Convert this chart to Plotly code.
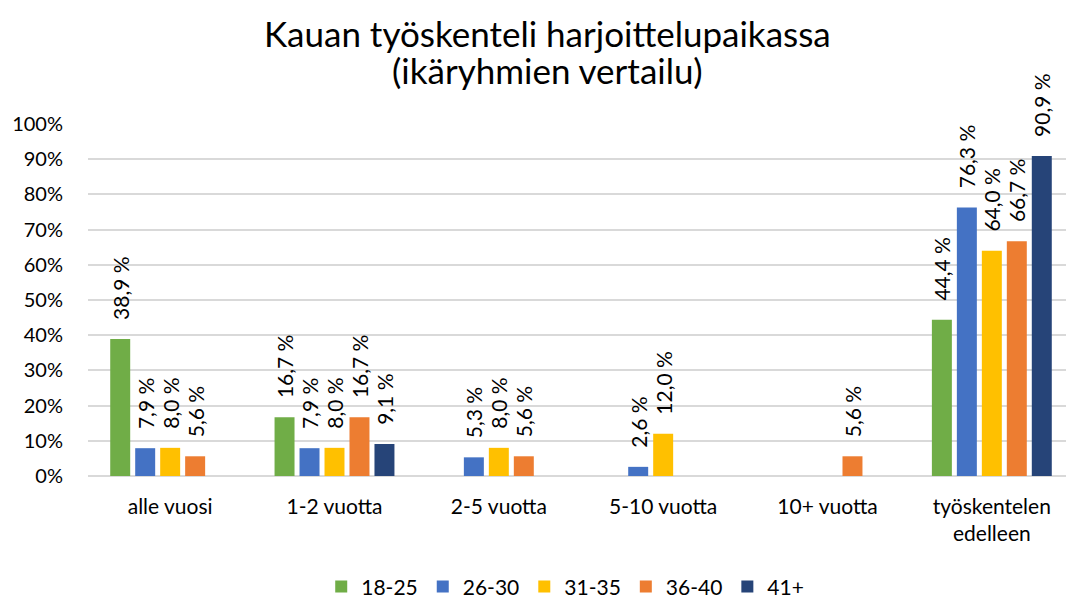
import plotly.graph_objects as go

categories = ["alle vuosi", "1-2 vuotta", "2-5 vuotta", "5-10 vuotta", "10+ vuotta",
              "työskentelen<br>edelleen"]
groups = ["18-25", "26-30", "31-35", "36-40", "41+"]
values_18_25 = [38.9, 16.7, None, None, None, 44.4]
values_26_30 = [7.9, 7.9, 5.3, 2.6, None, 76.3]
values_31_35 = [8.0, 8.0, 8.0, 12.0, None, 64.0]
values_36_40 = [5.6, 16.7, 5.6, None, 5.6, 66.7]
values_41 = [None, 9.1, None, None, None, 90.9]
colors = ["#70AD47", "#4472C4", "#FFC000", "#ED7D31", "#264478"]
title_lines = ["Kauan työskenteli harjoittelupaikassa", "(ikäryhmien vertailu)"]

FONT = "Lato, Carlito, 'Open Sans', sans-serif"

# the page body has an 8px margin, so the figure is made 8px smaller
W, H = 1066, 593
ML, MT, MB = 80, 116, 125
PLOT_H = H - MT - MB


def label(v):
    # finnish style: decimal comma and a space before the percent sign
    # (leading no-break spaces lift the label a bit off the bar, like excel does)
    if v is None:
        return ""
    return "\u00a0\u00a0\u00a0" + f"{v:.1f}".replace(".", ",") + " %"


fig = go.Figure()
for name, vals, col in zip(groups, [values_18_25, values_26_30, values_31_35, values_36_40, values_41],
                           colors):
    fig.add_trace(go.Bar(
        x=categories, y=[None if v is None else v / 100 for v in vals],
        name=name, marker=dict(color=col, line=dict(width=0)),
        text=[label(v) for v in vals], textposition="outside", textangle=-90,
        textfont=dict(size=21, color="#000000", family=FONT),
        cliponaxis=False,
    ))

# title as two annotations so the line spacing can follow the original
for i, line in enumerate(title_lines):
    fig.add_annotation(text=line, xref="paper", yref="paper", x=0.466,
                       y=1 + (MT - 25 - 37 * i) / PLOT_H,
                       xanchor="center", yanchor="middle", showarrow=False,
                       font=dict(size=35, family=FONT, color="#000000"))

fig.update_layout(
    width=W, height=H,
    paper_bgcolor="white", plot_bgcolor="white",
    font=dict(family=FONT, color="#000000", size=20),
    barmode="group", bargap=0.24, bargroupgap=0.2,
    margin=dict(l=ML, r=0, t=MT, b=MB, autoexpand=False),
    legend=dict(orientation="h", x=0.484, xanchor="center", y=-0.315, yanchor="middle",
                font=dict(size=21), traceorder="normal", itemwidth=30),
    uniformtext=dict(minsize=21, mode="show"),
)
fig.update_yaxes(range=[0, 1], tickvals=[i / 10 for i in range(11)],
                 ticktext=[f"{i * 10}%" for i in range(11)],
                 showgrid=True, gridcolor="#D9D9D9", gridwidth=1.5,
                 zeroline=True, zerolinecolor="#D9D9D9", zerolinewidth=1.5,
                 tickfont=dict(size=20), ticks="", ticklabelstandoff=24, automargin=False)
fig.update_xaxes(showline=False, ticks="", tickfont=dict(size=21), ticklabelstandoff=16,
                 automargin=False)

fig.write_html("out.html")
